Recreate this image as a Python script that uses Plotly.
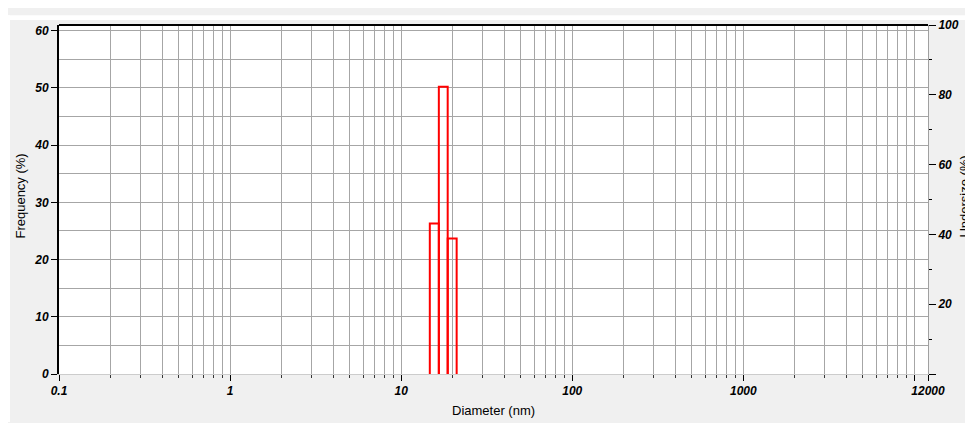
import math
import plotly.graph_objects as go

# ---- data ----
bin_lo = [14.7, 16.6, 18.7]          # nm, lower edge of each size class
bin_hi = [16.6, 18.7, 21.1]          # nm, upper edge
frequency = [26.3, 50.2, 23.7]       # %

x_major_vals = [0.1, 1, 10, 100, 1000, 10000, 12000]
x_major_text = ["0.1", "1", "10", "100", "1000", "", "12000"]
x_minor_vals = [m * 10 ** e for e in range(-1, 4) for m in range(2, 10)]

y_left_vals = [0, 10, 20, 30, 40, 50, 60]
y_left_text = ["0", "10", "20", "30", "40", "50", "60"]
y_right_vals = [0, 20, 40, 60, 80, 100]
y_right_text = ["", "20", "40", "60", "80", "100"]

# page body has an 8px margin, so the figure is placed at (8, 8) in the window
OFF = 8
W, H = 973 - OFF, 423 - OFF
L, T = 59 - OFF, 18 - OFF
R = W - (928 - OFF)
B = H - (374 - OFF)
pw = W - L - R
ph = H - T - B

def px_x(wx):   # window x pixel -> paper
    return (wx - OFF - L) / pw

def px_y(wy):   # window y pixel -> paper
    return 1 - (wy - OFF - T) / ph

grid = "#a6a6a6"
tickfont = dict(family="Liberation Sans, Arial", size=12, color="black",
                weight="bold", style="italic")
titlefont = dict(family="Liberation Sans, Arial", size=13, color="black")

fig = go.Figure()
for lo, hi, v in zip(bin_lo, bin_hi, frequency):
    fig.add_trace(go.Scatter(x=[lo, lo, hi, hi], y=[0, v, v, 0], mode="lines",
                             line=dict(color="#ff0000", width=2),
                             showlegend=False, hoverinfo="skip"))
# invisible trace to activate the right axis
fig.add_trace(go.Scatter(x=[0.1], y=[0], yaxis="y2", mode="markers",
                         marker=dict(opacity=0), showlegend=False, hoverinfo="skip"))

fig.update_layout(
    width=W, height=H, autosize=False,
    margin=dict(l=L, r=R, t=T, b=B, pad=0),
    paper_bgcolor="#f0f0f0", plot_bgcolor="white",
    xaxis=dict(type="log", range=[-1, math.log10(12000)],
               tickmode="array", tickvals=x_major_vals, ticktext=x_major_text,
               ticks="outside", ticklen=6, tickwidth=1, tickcolor="black",
               tickfont=tickfont, showgrid=True, gridcolor=grid, gridwidth=1,
               showline=True, linecolor="#cccccc", linewidth=1,
               zeroline=False,
               minor=dict(tickmode="array", tickvals=x_minor_vals, ticks="outside",
                          ticklen=3, tickcolor="#333333", showgrid=True,
                          gridcolor=grid, gridwidth=1)),
    yaxis=dict(range=[0, 61], tickmode="array", tickvals=y_left_vals,
               ticktext=y_left_text, ticks="outside", ticklen=6, tickcolor="black",
               tickfont=tickfont, showgrid=True, gridcolor=grid, gridwidth=1,
               showline=True, linecolor="black", linewidth=2, zeroline=False,
               minor=dict(dtick=5, tick0=0, showgrid=True, gridcolor=grid,
                          gridwidth=1, ticks="")),
    yaxis2=dict(range=[0, 100], overlaying="y", side="right",
                tickmode="array", tickvals=y_right_vals, ticktext=y_right_text,
                ticks="outside", ticklen=7, tickcolor="black", tickfont=tickfont,
                showgrid=False, showline=True, linecolor="#a0a0a0", linewidth=1,
                zeroline=False,
                minor=dict(dtick=10, tick0=0, ticks="outside", ticklen=3,
                           tickcolor="black", showgrid=False)),
    shapes=[
        dict(type="line", xref="paper", yref="paper", x0=0, x1=1, y0=1, y1=1,
             line=dict(color="black", width=2)),
        # thin white borders at top and left of the window
        dict(type="rect", xref="paper", yref="paper",
             x0=px_x(OFF), x1=px_x(973), y0=px_y(13), y1=px_y(OFF),
             fillcolor="white", line=dict(width=0)),
        dict(type="rect", xref="paper", yref="paper",
             x0=px_x(OFF), x1=px_x(10), y0=px_y(423), y1=px_y(OFF),
             fillcolor="white", line=dict(width=0)),
    ],
    annotations=[
        dict(text="Diameter (nm)", xref="paper", yref="paper",
             x=px_x(493), y=px_y(411), xanchor="center", yanchor="middle",
             showarrow=False, font=titlefont),
        dict(text="Frequency (%)", xref="paper", yref="paper", textangle=-90,
             x=px_x(21), y=px_y(193), xanchor="center", yanchor="middle",
             showarrow=False, font=titlefont),
        dict(text="Undersize (%)", xref="paper", yref="paper", textangle=-90,
             x=px_x(965), y=px_y(193), xanchor="center", yanchor="middle",
             showarrow=False, font=titlefont),
    ],
)

fig.write_html("out.html")
